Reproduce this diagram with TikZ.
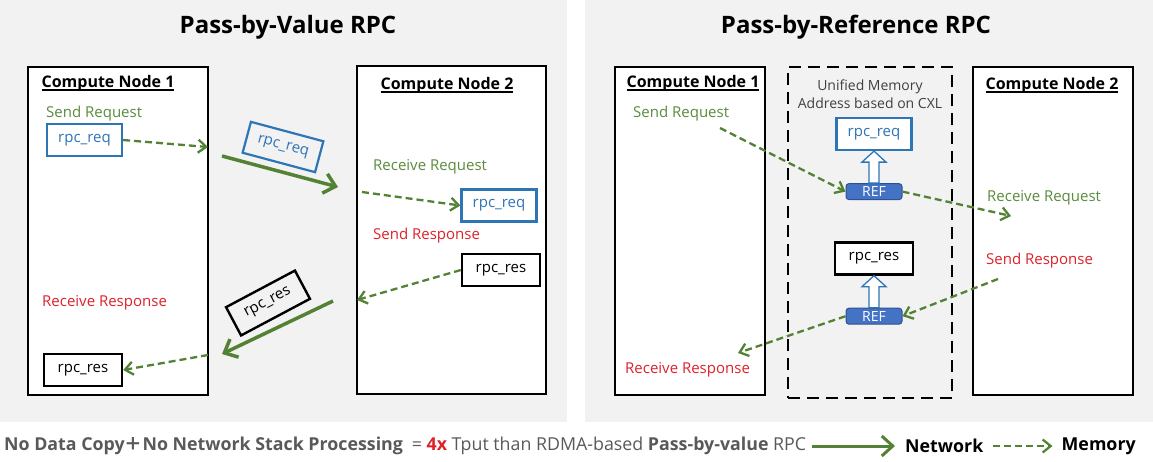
\documentclass[tikz,border=0pt]{standalone}
\usepackage{fontspec}
\setmainfont{Open Sans}
\newfontfamily\cjk{Noto Sans CJK SC}
\usetikzlibrary{positioning,arrows.meta,calc}

\definecolor{panelgray}{RGB}{242,242,242}
\definecolor{netgreen}{RGB}{84,130,53}
\definecolor{textgreen}{RGB}{90,140,60}
\definecolor{textred}{RGB}{222,34,42}
\definecolor{boxblue}{RGB}{46,117,182}
\definecolor{reffill}{RGB}{68,114,196}
\definecolor{refdraw}{RGB}{47,82,143}
\definecolor{cxlgray}{RGB}{64,64,64}
\definecolor{legendgray}{RGB}{89,89,89}

% underlined heading with a thick rule
\newcommand\ulabel[1]{\setbox0\hbox{#1}\rlap{\rule[-3.4pt]{\wd0}{1.6pt}}\box0}

\begin{document}
\begin{tikzpicture}[
    x=1pt, y=-1pt,
    every node/.style={inner sep=0pt},
    title/.style   ={font=\fontsize{24}{28}\selectfont\bfseries},
    cnbox/.style   ={draw=black, fill=white, line width=2.4pt},
    cnlabel/.style ={font=\fontsize{16}{18}\selectfont\bfseries},
    cxlbox/.style  ={draw=black, line width=2.5pt, dash pattern=on 12pt off 7pt},
    cxllabel/.style={font=\fontsize{14}{18}\selectfont, text=cxlgray, align=center},
    greentxt/.style={font=\fontsize{15}{18}\selectfont, text=textgreen, anchor=west},
    redtxt/.style  ={font=\fontsize{15}{18}\selectfont, text=textred, anchor=west},
    reqbox/.style  ={draw=boxblue, line width=2.2pt, text=boxblue,
                     minimum width=75pt, minimum height=32pt,
                     font=\fontsize{15}{18}\selectfont},
    resbox/.style  ={draw=black, line width=2.4pt,
                     minimum width=78pt, minimum height=32pt,
                     font=\fontsize{15}{18}\selectfont},
    ref/.style     ={draw=refdraw, fill=reffill, rounded corners=3pt, line width=1pt,
                     text=white, minimum width=56pt, minimum height=16pt,
                     font=\fontsize{14}{16}\selectfont},
    hollow/.style  ={draw=boxblue, fill=white, line width=1.3pt},
    net/.style     ={-{Straight Barb[length=11pt,width=20pt]}, line width=3.5pt, draw=netgreen},
    mem/.style     ={-{Straight Barb[length=8pt,width=13pt]}, line width=2.3pt, draw=netgreen,
                     dash pattern=on 7pt off 4pt},
    legendtxt/.style={font=\fontsize{17.8}{20}\selectfont, text=legendgray, anchor=west},
    legendkey/.style={font=\fontsize{17.8}{20}\selectfont\bfseries, anchor=west},
]

\useasboundingbox (0,0) rectangle (1153,461);
\fill[panelgray] (0,0) rectangle (567,422);
\fill[panelgray] (585,0) rectangle (1153,422);

% ============================================================
% LEFT PANEL -- pass-by-value
% ============================================================
\node[title] (titleA) at (288,27) {Pass-by-Value RPC};

\node[cnbox, minimum width=180pt, minimum height=328pt] (cn1a) at (118,231) {};
\node[cnbox, minimum width=189pt, minimum height=328pt] (cn2a) at (451.5,230) {};
\node[cnlabel] (cn1alabel) at (108,83) {\ulabel{Compute Node 1}};
\node[cnlabel] (cn2alabel) at (447,85) {\ulabel{Compute Node 2}};

\node[greentxt] (sendreqA) at (46,114) {Send Request};
\node[reqbox] (reqA) at (84.5,140) {rpc\_req};
\node[reqbox, rotate=-15] (reqNet) at (283,147) {rpc\_req};
\node[greentxt] (recvreqA) at (373,167) {Receive Request};
\node[reqbox] (reqB) at (499,205.5) {rpc\_req};

\node[redtxt] (sendresA) at (373,236) {Send Response};
\node[resbox] (resB) at (501,270) {rpc\_res};
\node[resbox, rotate=28] (resNet) at (268,303) {rpc\_res};
\node[redtxt] (recvresA) at (42,303) {Receive Response};
\node[resbox] (resA) at (83,370) {rpc\_res};

\coordinate (outreq) at (208,147);
\coordinate (netreqA) at (222,156);
\coordinate (netreqB) at (338,187);
\coordinate (inreq) at (362,192);
\coordinate (outres) at (357,300);
\coordinate (netresA) at (333,301);
\coordinate (netresB) at (222,354);
\coordinate (inres) at (208,355);

\draw[mem] (reqA.east) -- (outreq);
\draw[net] (netreqA) -- (netreqB);
\draw[mem] (inreq) -- (reqB.west);
\draw[mem] (resB.west) -- (outres);
\draw[net] (netresA) -- (netresB);
\draw[mem] (inres) -- (resA.east);

% ============================================================
% RIGHT PANEL -- pass-by-reference
% ============================================================
\node[title] (titleB) at (856,27) {Pass-by-Reference RPC};

\node[cnbox, minimum width=150pt, minimum height=328pt] (cn1b) at (690,231) {};
\node[cxlbox, minimum width=164pt, minimum height=331pt] (cxl) at (870,232.5) {};
\node[cnbox, minimum width=160pt, minimum height=328pt] (cn2b) at (1053,231) {};
\node[cnlabel] (cn1blabel) at (693,83) {\ulabel{Compute Node 1}};
\node[cnlabel] (cn2blabel) at (1052,85) {\ulabel{Compute Node 2}};
\node[cxllabel] (cxllabel) at (870,94) {Unified Memory\\Address based on CXL};

\node[reqbox, fill=white] (reqC) at (874,134) {rpc\_req};
\node[ref, below=32pt of reqC] (ref1) {REF};
\node[resbox, fill=white] (resC) at (874,258.5) {rpc\_res};
\node[ref, below=32pt of resC] (ref2) {REF};

% hollow block arrows REF -> buffer
\draw[hollow] ($(ref1.north)+(-5,0)$) -- ($(reqC.south)+(-5,11)$) -- ++(-7,0)
    -- (reqC.south) -- ($(reqC.south)+(12,11)$) -- ++(-7,0)
    -- ($(ref1.north)+(5,0)$) -- cycle;
\draw[hollow] ($(ref2.north)+(-5,0)$) -- ($(resC.south)+(-5,11)$) -- ++(-7,0)
    -- (resC.south) -- ($(resC.south)+(12,11)$) -- ++(-7,0)
    -- ($(ref2.north)+(5,0)$) -- cycle;

\node[greentxt] (sendreqB) at (633,114) {Send Request};
\node[greentxt] (recvreqB) at (987,198) {Receive Request};
\node[redtxt] (sendresB) at (986,261) {Send Response};
\node[redtxt] (recvresB) at (625,370) {Receive Response};

\coordinate (reqsrc) at (720,128);
\coordinate (reqdst) at (1011,216);
\coordinate (ressrc) at (998,279);
\coordinate (resdst) at (738,353);

\draw[mem] (reqsrc) -- (ref1.west);
\draw[mem] (ref1.east) -- (reqdst);
\draw[mem] (ressrc) -- (ref2.east);
\draw[mem] (ref2.west) -- (resdst);

% ============================================================
% LEGEND
% ============================================================
\node[legendtxt] (summary) at (4,446)
    {\textbf{No Data Copy{\cjk ＋}No Network Stack Processing}\enspace=
     \textcolor{textred}{\textbf{4x}} Tput than RDMA-based \textbf{Pass-by-value} RPC};
\coordinate (keynetA) at (812,446);
\coordinate (keynetB) at (895,446);
\draw[net, line width=3pt] (keynetA) -- (keynetB);
\node[legendkey, right=10pt of keynetB] (netlbl) {Network};
\coordinate[right=9pt of netlbl] (keymemA);
\coordinate[right=60pt of keymemA] (keymemB);
\draw[mem] (keymemA) -- (keymemB);
\node[legendkey, right=9pt of keymemB] (memlbl) {Memory};

\end{tikzpicture}
\end{document}
